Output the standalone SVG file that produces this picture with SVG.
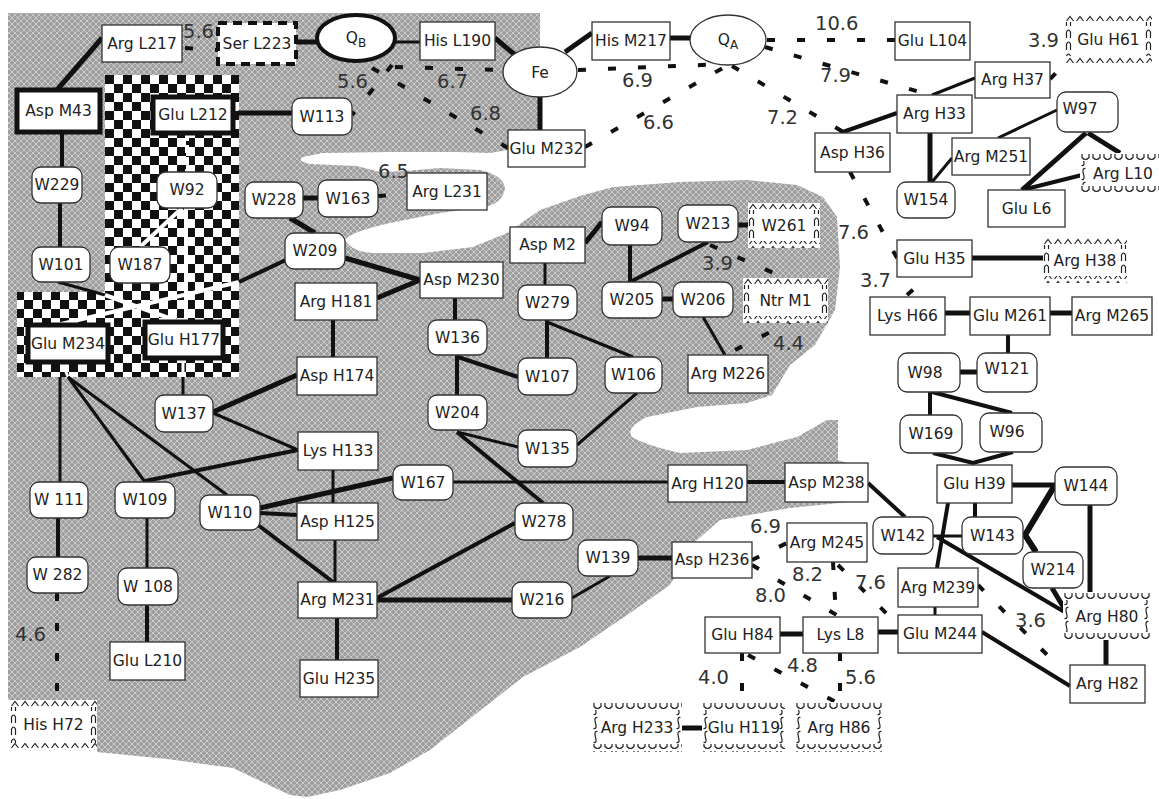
<svg xmlns="http://www.w3.org/2000/svg" width="1159" height="799" viewBox="0 0 1159 799">
<defs>
<pattern id="gp" width="6" height="6" patternUnits="userSpaceOnUse"><rect width="6" height="6" fill="#9f9f9f"/><path d="M0,0L6,6M6,0L0,6" stroke="#d0d0d0" stroke-width="0.9"/></pattern>
<pattern id="chk" x="105" y="75" width="18" height="18" patternUnits="userSpaceOnUse"><rect width="18" height="18" fill="#fff"/><rect width="9" height="9" fill="#111"/><rect x="9" y="9" width="9" height="9" fill="#111"/></pattern>
<pattern id="car" width="10" height="7" patternUnits="userSpaceOnUse"><path d="M1.5,6 L5,1.5 L8.5,6" fill="none" stroke="#222" stroke-width="1.2"/></pattern>
<pattern id="cs" width="7" height="12" patternUnits="userSpaceOnUse"><path d="M1.5,11 L1.5,5 Q3.5,1 5.5,5 L5.5,11" fill="none" stroke="#222" stroke-width="1.2"/></pattern>
<pattern id="uu" width="11" height="8" patternUnits="userSpaceOnUse"><path d="M2,1 L2,4.5 Q5.5,8.5 9,4.5 L9,1" fill="none" stroke="#222" stroke-width="1.2"/></pattern>
<pattern id="us" width="7" height="14" patternUnits="userSpaceOnUse"><path d="M5.5,1.5 Q2.5,1 3,5 L4,9.5 Q4.5,13 1.5,12.5" fill="none" stroke="#222" stroke-width="1.2"/></pattern>
</defs>
<style>
.r{fill:#fff;stroke:#333;stroke-width:1.3}
.tb{fill:#fff;stroke:#111;stroke-width:5}
.dsb{fill:#fff;stroke:#111;stroke-width:4;stroke-dasharray:9 6}
text{font-family:"DejaVu Sans","Liberation Sans",sans-serif;font-size:15.5px;fill:#222;text-anchor:middle}
text.d{font-size:19.5px;fill:#333;text-anchor:start}
.c line,.c polyline,.c path{stroke:#111;fill:none}
.c .s3{stroke-width:3}
.c .s4{stroke-width:4}
.c .s5{stroke-width:5}
.c .s6{stroke-width:6}
.c .dl{stroke-width:4;stroke-dasharray:8 22}
.c .wh{stroke:#fff}
</style>
<rect width="1159" height="799" fill="#fff"/>
<path id="region" fill="url(#gp)" d="M8,13 L540,13 L540,135 L508,150 L490,153 L457,152 L390,152 L323,153 L303,157 Q296,161 310,164 L357,166 L380,172 L405,171 L440,168 L480,170 Q503,175 505,188 Q503,203 485,207 L440,213 L390,223 Q350,232 345,240 Q352,252 373,253 L423,253 L473,247 L507,233 L540,210 L580,196 L613,187 L680,182 L747,180 L797,185 L823,197 L837,217 L840,267 L835,310 L815,345 L790,365 L772,395 L747,403 L697,407 L647,417 Q625,428 632,437 Q645,445 680,453 L747,450 L797,437 L827,420 L838,420 L838,460 L868,470 L868,500 L790,508 L720,520 L697,540 L670,585 L630,613 L580,647 L523,677 L477,713 L430,750 L390,773 L340,790 L307,797 L290,795 L233,768 L167,759 L97,752 L97,700 L8,700 Z"/>
<path id="checker" fill="url(#chk)" d="M105,75 H239 V377 H17 V292 H105 Z"/>
<g id="connectors" class="c">
<line class="s5" x1="102" y1="38" x2="57" y2="90"/>
<line class="s5" x1="296" y1="42" x2="317" y2="42"/>
<line class="s3" x1="395" y1="42" x2="420" y2="42"/>
<line class="s5" x1="495" y1="38" x2="515" y2="55"/>
<line class="s5" x1="565" y1="52" x2="592" y2="33"/>
<line class="s5" x1="540" y1="97" x2="540" y2="130"/>
<line class="s5" x1="670" y1="38" x2="690" y2="38"/>
<line class="s5" x1="238" y1="113" x2="292" y2="113"/>
<line class="s4" x1="62" y1="132" x2="62" y2="167"/>
<line class="s4" x1="60" y1="203" x2="60" y2="247"/>
<line class="s5" x1="303" y1="198" x2="318" y2="198"/>
<line class="s5" x1="290" y1="218" x2="315" y2="233"/>
<line class="s5" x1="345" y1="258" x2="420" y2="280"/>
<line class="s5" x1="377" y1="298" x2="420" y2="280"/>
<line class="s4" x1="333" y1="320" x2="333" y2="357"/>
<line class="s4" x1="455" y1="298" x2="455" y2="320"/>
<line class="s4" x1="457" y1="355" x2="457" y2="395"/>
<line class="s4" x1="458" y1="357" x2="518" y2="377"/>
<line class="s3" x1="545" y1="263" x2="545" y2="285"/>
<line class="s4" x1="547" y1="320" x2="547" y2="358"/>
<line class="s3" x1="547" y1="322" x2="633" y2="357"/>
<line class="s3" x1="457" y1="432" x2="518" y2="447"/>
<line class="s4" x1="457" y1="432" x2="543" y2="503"/>
<line class="s3" x1="577" y1="445" x2="637" y2="393"/>
<line class="s5" x1="585" y1="243" x2="602" y2="222"/>
<line class="s4" x1="630" y1="245" x2="630" y2="282"/>
<line class="s4" x1="630" y1="282" x2="708" y2="242"/>
<line class="s5" x1="662" y1="299" x2="673" y2="299"/>
<line class="s3" x1="703" y1="317" x2="725" y2="355"/>
<line class="s5" x1="738" y1="225" x2="748" y2="225"/>
<line class="s3 wh" x1="183" y1="358" x2="183" y2="377"/>
<line class="s3" x1="183" y1="377" x2="183" y2="395"/>
<line class="s5" x1="213" y1="412" x2="297" y2="375"/>
<line class="s3" x1="213" y1="413" x2="298" y2="450"/>
<line class="s3 wh" x1="62" y1="362" x2="68" y2="377"/>
<line class="s3" x1="60" y1="377" x2="60" y2="482"/>
<line class="s3" x1="68" y1="377" x2="145" y2="482"/>
<line class="s3" x1="68" y1="377" x2="227" y2="495"/>
<line class="s4" x1="145" y1="481" x2="298" y2="450"/>
<line class="s3" x1="333" y1="470" x2="333" y2="503"/>
<line class="s5" x1="260" y1="508" x2="393" y2="478"/>
<line class="s4" x1="260" y1="513" x2="297" y2="515"/>
<line class="s4" x1="258" y1="525" x2="333" y2="582"/>
<line class="s3" x1="335" y1="540" x2="335" y2="582"/>
<line class="s3" x1="453" y1="482" x2="668" y2="482"/>
<line class="s4" x1="747" y1="482" x2="785" y2="482"/>
<line class="s4" x1="377" y1="598" x2="515" y2="523"/>
<line class="s5" x1="377" y1="600" x2="512" y2="600"/>
<line class="s4" x1="337" y1="618" x2="337" y2="660"/>
<line class="s3" x1="572" y1="598" x2="610" y2="576"/>
<line class="s5" x1="638" y1="558" x2="672" y2="558"/>
<line class="s4" x1="58" y1="518" x2="58" y2="557"/>
<line class="s3" x1="147" y1="518" x2="147" y2="568"/>
<line class="s4" x1="147" y1="605" x2="147" y2="642"/>
<line class="s4" x1="840" y1="133" x2="897" y2="113"/>
<line class="s3" x1="932" y1="95" x2="975" y2="78"/>
<line class="s5" x1="930" y1="133" x2="930" y2="182"/>
<line class="s3" x1="952" y1="158" x2="932" y2="182"/>
<line class="s3" x1="998" y1="138" x2="1057" y2="110"/>
<line class="s5" x1="1086" y1="133" x2="1022" y2="190"/>
<line class="s5" x1="1088" y1="133" x2="1120" y2="153"/>
<line class="s4" x1="1022" y1="190" x2="1082" y2="175"/>
<line class="s5" x1="972" y1="258" x2="1045" y2="258"/>
<line class="s5" x1="945" y1="313" x2="970" y2="313"/>
<line class="s5" x1="1050" y1="313" x2="1072" y2="313"/>
<line class="s4" x1="1008" y1="335" x2="1008" y2="353"/>
<line class="s5" x1="960" y1="372" x2="977" y2="372"/>
<line class="s4" x1="930" y1="392" x2="930" y2="415"/>
<line class="s4" x1="932" y1="392" x2="1012" y2="413"/>
<polyline class="s4" points="933,453 973,463 1013,452"/>
<line class="s5" x1="1012" y1="485" x2="1055" y2="485"/>
<line class="s4" x1="975" y1="503" x2="975" y2="517"/>
<line class="s4" x1="948" y1="503" x2="937" y2="568"/>
<line class="s3" x1="933" y1="536" x2="962" y2="536"/>
<polyline class="s6" points="1055,485 1025,535 1036,552"/>
<line class="s5" x1="1090" y1="505" x2="1090" y2="593"/>
<line class="s5" x1="1052" y1="588" x2="1067" y2="613"/>
<line class="s4" x1="937" y1="537" x2="1068" y2="614"/>
<line class="s4" x1="868" y1="483" x2="905" y2="517"/>
<line class="s3" x1="935" y1="607" x2="935" y2="615"/>
<line class="s4" x1="982" y1="632" x2="1070" y2="686"/>
<line class="s5" x1="1106" y1="640" x2="1106" y2="665"/>
<line class="s5" x1="878" y1="632" x2="898" y2="632"/>
<line class="s5" x1="780" y1="634" x2="803" y2="634"/>
<line class="s5" x1="682" y1="728" x2="702" y2="728"/>
<line class="s4 wh" x1="187" y1="133" x2="187" y2="172" stroke-dasharray="8 4"/>
<line class="s4 wh" x1="182" y1="208" x2="140" y2="247"/>
<line class="s4 wh" x1="186" y1="208" x2="186" y2="322"/>
<line class="s3" x1="58" y1="282" x2="105" y2="295"/>
<line class="s4 wh" x1="105" y1="295" x2="180" y2="322"/>
<line class="s4 wh" x1="57" y1="325" x2="239" y2="282"/>
<line class="s4" x1="239" y1="282" x2="290" y2="258"/>
<line class="dl" x1="185" y1="48" x2="220" y2="50" stroke-dasharray="7 22 7"/>
<line class="dl" x1="392" y1="65" x2="352" y2="115"/>
<line class="dl" x1="395" y1="67" x2="503" y2="70"/>
<line class="dl" x1="372" y1="68" x2="508" y2="148"/>
<line class="dl" x1="378" y1="196" x2="407" y2="194" stroke-dasharray="8 13 8"/>
<line class="dl" x1="578" y1="70" x2="726" y2="64"/>
<line class="dl" x1="585" y1="147" x2="728" y2="65"/>
<line class="dl" x1="767" y1="40" x2="895" y2="40"/>
<line class="dl" x1="765" y1="47" x2="930" y2="95"/>
<line class="dl" x1="732" y1="66" x2="845" y2="133"/>
<line class="dl" x1="1050" y1="79" x2="1058" y2="71"/>
<line class="dl" x1="850" y1="172" x2="897" y2="258"/>
<line class="dl" x1="907" y1="295" x2="915" y2="288"/>
<line class="dl" x1="710" y1="245" x2="785" y2="278"/>
<line class="dl" x1="735" y1="350" x2="790" y2="322"/>
<line class="dl" x1="57" y1="593" x2="57" y2="700" stroke-width="5" stroke-dasharray="8 12"/>
<line class="dl" x1="752" y1="560" x2="787" y2="543" stroke-dasharray="3 22 8"/>
<line class="dl" x1="752" y1="565" x2="840" y2="617"/>
<line class="dl" x1="833" y1="562" x2="836" y2="617" stroke-dasharray="20 22 10"/>
<line class="dl" x1="838" y1="565" x2="890" y2="617"/>
<line class="dl" x1="978" y1="585" x2="1060" y2="668"/>
<line class="dl" x1="742" y1="653" x2="742" y2="710"/>
<line class="dl" x1="748" y1="655" x2="845" y2="707"/>
<line class="dl" x1="840" y1="653" x2="840" y2="707"/>
<text class="d" x="183" y="38">5.6</text>
<text class="d" x="337" y="88">5.6</text>
<text class="d" x="437" y="88">6.7</text>
<text class="d" x="470" y="120">6.8</text>
<text class="d" x="378" y="178">6.5</text>
<text class="d" x="622" y="87">6.9</text>
<text class="d" x="815" y="30">10.6</text>
<text class="d" x="643" y="129">6.6</text>
<text class="d" x="767" y="124">7.2</text>
<text class="d" x="820" y="82">7.9</text>
<text class="d" x="1028" y="47">3.9</text>
<text class="d" x="838" y="239">7.6</text>
<text class="d" x="702" y="270">3.9</text>
<text class="d" x="860" y="287">3.7</text>
<text class="d" x="773" y="350">4.4</text>
<text class="d" x="15" y="641">4.6</text>
<text class="d" x="750" y="533">6.9</text>
<text class="d" x="792" y="581">8.2</text>
<text class="d" x="755" y="602">8.0</text>
<text class="d" x="855" y="589">7.6</text>
<text class="d" x="1015" y="627">3.6</text>
<text class="d" x="698" y="684">4.0</text>
<text class="d" x="787" y="672">4.8</text>
<text class="d" x="845" y="684">5.6</text>
</g>
<g id="n-ArgL217"><rect class="r" x="102" y="25" width="80" height="37"/><text x="142" y="49">Arg L217</text></g>
<g id="n-SerL223"><rect class="dsb" x="218" y="23" width="78" height="41"/><text x="257" y="49">Ser L223</text></g>
<g id="n-QB"><ellipse cx="356" cy="38" rx="39" ry="23" fill="#fff" stroke="#111" stroke-width="4"/><text x="356" y="43">Q<tspan font-size="12" dy="4">B</tspan></text></g>
<g id="n-HisL190"><rect class="r" x="420" y="22" width="75" height="38"/><text x="457.5" y="46">His L190</text></g>
<g id="n-Fe"><ellipse cx="540" cy="72" rx="37" ry="25" fill="#fff" stroke="#333" stroke-width="1.3"/><text x="540" y="78">Fe</text></g>
<g id="n-HisM217"><rect class="r" x="592" y="22" width="78" height="38"/><text x="631" y="46">His M217</text></g>
<g id="n-QA"><ellipse cx="728" cy="40" rx="38" ry="25" fill="#fff" stroke="#333" stroke-width="1.3"/><text x="728" y="45">Q<tspan font-size="12" dy="4">A</tspan></text></g>
<g id="n-GluL104"><rect class="r" x="895" y="22" width="75" height="38"/><text x="932.5" y="46">Glu L104</text></g>
<g id="n-ArgH37"><rect class="r" x="975" y="62" width="75" height="36"/><text x="1012.5" y="85">Arg H37</text></g>
<g id="n-ArgH33"><rect class="r" x="897" y="95" width="75" height="38"/><text x="934.5" y="119">Arg H33</text></g>
<g id="n-AspH36"><rect class="r" x="815" y="133" width="75" height="39"/><text x="852.5" y="158">Asp H36</text></g>
<g id="n-ArgM251"><rect class="r" x="952" y="138" width="78" height="37"/><text x="991" y="162">Arg M251</text></g>
<g id="n-GluL6"><rect class="r" x="988" y="190" width="77" height="37"/><text x="1026.5" y="214">Glu L6</text></g>
<g id="n-GluM232"><rect class="r" x="508" y="130" width="77" height="37"/><text x="546.5" y="154">Glu M232</text></g>
<g id="n-ArgL231"><rect class="r" x="407" y="173" width="80" height="37"/><text x="447" y="197">Arg L231</text></g>
<g id="n-AspM2"><rect class="r" x="510" y="227" width="75" height="36"/><text x="547.5" y="250">Asp M2</text></g>
<g id="n-ArgH181"><rect class="r" x="295" y="283" width="82" height="37"/><text x="336" y="307">Arg H181</text></g>
<g id="n-AspM230"><rect class="r" x="420" y="262" width="83" height="36"/><text x="461.5" y="285">Asp M230</text></g>
<g id="n-AspH174"><rect class="r" x="297" y="357" width="80" height="38"/><text x="337" y="381">Asp H174</text></g>
<g id="n-LysH133"><rect class="r" x="298" y="432" width="80" height="38"/><text x="338" y="456">Lys H133</text></g>
<g id="n-AspH125"><rect class="r" x="297" y="503" width="81" height="37"/><text x="337.5" y="527">Asp H125</text></g>
<g id="n-ArgM231"><rect class="r" x="298" y="582" width="79" height="36"/><text x="337.5" y="605">Arg M231</text></g>
<g id="n-GluH235"><rect class="r" x="300" y="660" width="78" height="37"/><text x="339" y="684">Glu H235</text></g>
<g id="n-GluL210"><rect class="r" x="110" y="642" width="75" height="38"/><text x="147.5" y="666">Glu L210</text></g>
<g id="n-ArgM226"><rect class="r" x="688" y="355" width="80" height="38"/><text x="728" y="379">Arg M226</text></g>
<g id="n-GluH35"><rect class="r" x="897" y="240" width="75" height="37"/><text x="934.5" y="264">Glu H35</text></g>
<g id="n-LysH66"><rect class="r" x="870" y="297" width="75" height="38"/><text x="907.5" y="321">Lys H66</text></g>
<g id="n-GluM261"><rect class="r" x="970" y="297" width="80" height="38"/><text x="1010" y="321">Glu M261</text></g>
<g id="n-ArgM265"><rect class="r" x="1072" y="297" width="80" height="38"/><text x="1112" y="321">Arg M265</text></g>
<g id="n-GluH39"><rect class="r" x="937" y="465" width="75" height="38"/><text x="974.5" y="489">Glu H39</text></g>
<g id="n-ArgH120"><rect class="r" x="668" y="465" width="79" height="37"/><text x="707.5" y="489">Arg H120</text></g>
<g id="n-AspM238"><rect class="r" x="785" y="463" width="83" height="39"/><text x="826.5" y="488">Asp M238</text></g>
<g id="n-AspH236"><rect class="r" x="672" y="542" width="80" height="36"/><text x="712" y="565">Asp H236</text></g>
<g id="n-ArgM245"><rect class="r" x="787" y="523" width="80" height="39"/><text x="827" y="548">Arg M245</text></g>
<g id="n-ArgM239"><rect class="r" x="898" y="568" width="80" height="39"/><text x="938" y="593">Arg M239</text></g>
<g id="n-GluM244"><rect class="r" x="898" y="615" width="84" height="38"/><text x="940" y="639">Glu M244</text></g>
<g id="n-GluH84"><rect class="r" x="705" y="617" width="75" height="36"/><text x="742.5" y="640">Glu H84</text></g>
<g id="n-LysL8"><rect class="r" x="803" y="617" width="75" height="36"/><text x="840.5" y="640">Lys L8</text></g>
<g id="n-ArgH82"><rect class="r" x="1070" y="665" width="75" height="38"/><text x="1107.5" y="689">Arg H82</text></g>
<g id="n-AspM43"><rect class="tb" x="17" y="90" width="83" height="42"/><text x="58.5" y="116">Asp M43</text></g>
<g id="n-GluL212"><rect class="tb" x="153" y="97" width="80" height="36"/><text x="193" y="120">Glu L212</text></g>
<g id="n-GluM234"><rect class="tb" x="28" y="325" width="80" height="37"/><text x="68" y="349">Glu M234</text></g>
<g id="n-GluH177"><rect class="tb" x="145" y="322" width="78" height="36"/><text x="184" y="345">Glu H177</text></g>
<g id="n-W113"><rect class="r" rx="9" x="292" y="98" width="60" height="37"/><text x="322" y="122">W113</text></g>
<g id="n-W229"><rect class="r" rx="9" x="32" y="167" width="50" height="36"/><text x="57" y="190">W229</text></g>
<g id="n-W92"><rect class="r" rx="9" x="157" y="172" width="60" height="36"/><text x="187" y="195">W92</text></g>
<g id="n-W228"><rect class="r" rx="9" x="245" y="182" width="58" height="36"/><text x="274" y="205">W228</text></g>
<g id="n-W163"><rect class="r" rx="9" x="318" y="180" width="60" height="37"/><text x="348" y="204">W163</text></g>
<g id="n-W101"><rect class="r" rx="9" x="32" y="247" width="58" height="35"/><text x="61" y="270">W101</text></g>
<g id="n-W187"><rect class="r" rx="9" x="110" y="247" width="60" height="36"/><text x="140" y="270">W187</text></g>
<g id="n-W209"><rect class="r" rx="9" x="285" y="233" width="60" height="36"/><text x="315" y="256">W209</text></g>
<g id="n-W94"><rect class="r" rx="9" x="602" y="207" width="60" height="38"/><text x="632" y="231">W94</text></g>
<g id="n-W213"><rect class="r" rx="9" x="678" y="205" width="60" height="37"/><text x="708" y="229">W213</text></g>
<g id="n-W279"><rect class="r" rx="9" x="518" y="285" width="59" height="35"/><text x="547.5" y="308">W279</text></g>
<g id="n-W136"><rect class="r" rx="9" x="428" y="320" width="59" height="35"/><text x="457.5" y="343">W136</text></g>
<g id="n-W205"><rect class="r" rx="9" x="602" y="282" width="60" height="36"/><text x="632" y="305">W205</text></g>
<g id="n-W206"><rect class="r" rx="9" x="673" y="282" width="60" height="35"/><text x="703" y="305">W206</text></g>
<g id="n-W107"><rect class="r" rx="9" x="518" y="358" width="59" height="37"/><text x="547.5" y="382">W107</text></g>
<g id="n-W106"><rect class="r" rx="9" x="605" y="357" width="57" height="36"/><text x="633.5" y="380">W106</text></g>
<g id="n-W204"><rect class="r" rx="9" x="428" y="395" width="59" height="35"/><text x="457.5" y="418">W204</text></g>
<g id="n-W135"><rect class="r" rx="9" x="518" y="430" width="59" height="37"/><text x="547.5" y="454">W135</text></g>
<g id="n-W137"><rect class="r" rx="9" x="155" y="395" width="58" height="37"/><text x="184" y="419">W137</text></g>
<g id="n-W167"><rect class="r" rx="9" x="393" y="465" width="60" height="35"/><text x="423" y="488">W167</text></g>
<g id="n-W111"><rect class="r" rx="9" x="30" y="482" width="58" height="36"/><text x="59" y="505">W 111</text></g>
<g id="n-W109"><rect class="r" rx="9" x="115" y="482" width="60" height="36"/><text x="145" y="505">W109</text></g>
<g id="n-W110"><rect class="r" rx="9" x="200" y="495" width="60" height="35"/><text x="230" y="518">W110</text></g>
<g id="n-W278"><rect class="r" rx="9" x="515" y="503" width="58" height="37"/><text x="544" y="527">W278</text></g>
<g id="n-W282"><rect class="r" rx="9" x="27" y="557" width="61" height="36"/><text x="57.5" y="580">W 282</text></g>
<g id="n-W108"><rect class="r" rx="9" x="118" y="568" width="60" height="37"/><text x="148" y="592">W 108</text></g>
<g id="n-W216"><rect class="r" rx="9" x="512" y="582" width="60" height="36"/><text x="542" y="605">W216</text></g>
<g id="n-W139"><rect class="r" rx="9" x="578" y="540" width="60" height="36"/><text x="608" y="563">W139</text></g>
<g id="n-W154"><rect class="r" rx="9" x="897" y="182" width="58" height="36"/><text x="926" y="205">W154</text></g>
<g id="n-W97"><rect class="r" rx="9" x="1057" y="92" width="61" height="40"/><text x="1080" y="114">W97</text></g>
<g id="n-W121"><rect class="r" rx="9" x="977" y="353" width="60" height="39"/><text x="1007" y="374">W121</text></g>
<g id="n-W98"><rect class="r" rx="9" x="898" y="353" width="62" height="39"/><text x="925" y="378">W98</text></g>
<g id="n-W169"><rect class="r" rx="9" x="900" y="415" width="62" height="38"/><text x="931" y="439">W169</text></g>
<g id="n-W96"><rect class="r" rx="9" x="980" y="413" width="62" height="39"/><text x="1007" y="437">W96</text></g>
<g id="n-W144"><rect class="r" rx="9" x="1055" y="467" width="62" height="38"/><text x="1086" y="491">W144</text></g>
<g id="n-W142"><rect class="r" rx="9" x="873" y="517" width="60" height="37"/><text x="903" y="541">W142</text></g>
<g id="n-W143"><rect class="r" rx="9" x="962" y="517" width="61" height="37"/><text x="992.5" y="541">W143</text></g>
<g id="n-W214"><rect class="r" rx="9" x="1023" y="552" width="60" height="36"/><text x="1053" y="575">W214</text></g>
<g id="n-GluH61" transform="translate(1065,15)"><rect width="87" height="48" fill="#fff"/><rect width="87" height="7" fill="url(#car)"/><rect y="41" width="87" height="7" fill="url(#car)"/><rect y="7" width="7" height="34" fill="url(#cs)"/><g transform="translate(80,0)"><rect y="7" width="7" height="34" fill="url(#cs)"/></g><text x="43.5" y="30">Glu H61</text></g>
<g id="n-W261" transform="translate(748,203)"><rect width="72" height="45" fill="#fff"/><rect width="72" height="7" fill="url(#car)"/><rect y="38" width="72" height="7" fill="url(#car)"/><rect y="7" width="7" height="31" fill="url(#cs)"/><g transform="translate(65,0)"><rect y="7" width="7" height="31" fill="url(#cs)"/></g><text x="36" y="28">W261</text></g>
<g id="n-ArgH38" transform="translate(1043,238)"><rect width="84" height="45" fill="#fff"/><rect width="84" height="7" fill="url(#car)"/><rect y="38" width="84" height="7" fill="url(#car)"/><rect y="7" width="7" height="31" fill="url(#cs)"/><g transform="translate(77,0)"><rect y="7" width="7" height="31" fill="url(#cs)"/></g><text x="42" y="28">Arg H38</text></g>
<g id="n-NtrM1" transform="translate(743,278)"><rect width="85" height="45" fill="#fff"/><rect width="85" height="7" fill="url(#car)"/><rect y="38" width="85" height="7" fill="url(#car)"/><rect y="7" width="7" height="31" fill="url(#cs)"/><g transform="translate(78,0)"><rect y="7" width="7" height="31" fill="url(#cs)"/></g><text x="42.5" y="28">Ntr M1</text></g>
<g id="n-HisH72" transform="translate(10,700)"><rect width="87" height="50" fill="#fff"/><rect width="87" height="7" fill="url(#car)"/><rect y="43" width="87" height="7" fill="url(#car)"/><rect y="7" width="7" height="36" fill="url(#cs)"/><g transform="translate(80,0)"><rect y="7" width="7" height="36" fill="url(#cs)"/></g><text x="43.5" y="30">His H72</text></g>
<g id="n-ArgL10" transform="translate(1080,153)"><rect width="79" height="40" fill="#fff"/><rect width="79" height="8" fill="url(#uu)"/><rect y="32" width="79" height="8" fill="url(#uu)"/><rect y="8" width="7" height="24" fill="url(#us)"/><text x="43" y="26">Arg L10</text></g>
<g id="n-ArgH80" transform="translate(1063,592)"><rect width="87" height="48" fill="#fff"/><rect width="87" height="8" fill="url(#uu)"/><rect y="40" width="87" height="8" fill="url(#uu)"/><rect y="8" width="7" height="32" fill="url(#us)"/><g transform="translate(80,0)"><rect y="8" width="7" height="32" fill="url(#us)"/></g><text x="44" y="30">Arg H80</text></g>
<g id="n-ArgH233" transform="translate(592,702)"><rect width="90" height="50" fill="#fff"/><rect width="90" height="8" fill="url(#uu)"/><rect y="42" width="90" height="8" fill="url(#uu)"/><rect y="8" width="7" height="34" fill="url(#us)"/><g transform="translate(83,0)"><rect y="8" width="7" height="34" fill="url(#us)"/></g><text x="45" y="31">Arg H233</text></g>
<g id="n-GluH119" transform="translate(702,702)"><rect width="83" height="50" fill="#fff"/><rect width="83" height="8" fill="url(#uu)"/><rect y="42" width="83" height="8" fill="url(#uu)"/><rect y="8" width="7" height="34" fill="url(#us)"/><g transform="translate(76,0)"><rect y="8" width="7" height="34" fill="url(#us)"/></g><text x="42" y="31">Glu H119</text></g>
<g id="n-ArgH86" transform="translate(795,702)"><rect width="88" height="50" fill="#fff"/><rect width="88" height="8" fill="url(#uu)"/><rect y="42" width="88" height="8" fill="url(#uu)"/><rect y="8" width="7" height="34" fill="url(#us)"/><g transform="translate(81,0)"><rect y="8" width="7" height="34" fill="url(#us)"/></g><text x="44" y="31">Arg H86</text></g>
</svg>
